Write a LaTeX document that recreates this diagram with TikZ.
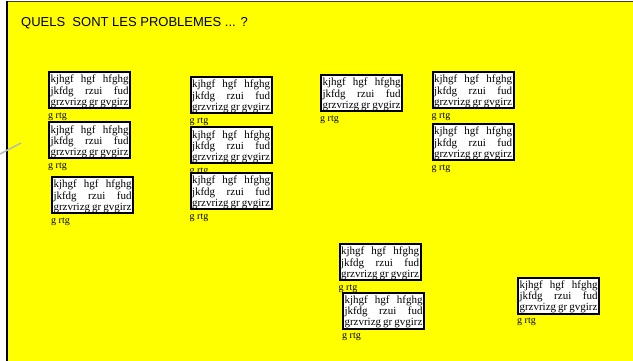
\documentclass[tikz,border=0pt]{standalone}
\usepackage{fontspec}
\setmainfont{Liberation Serif}
\newfontfamily\arialf{Liberation Sans}
\definecolor{bgyellow}{RGB}{255,255,0}
\definecolor{edgegrey}{RGB}{60,60,60}
\definecolor{linegrey}{RGB}{185,185,185}
\newcommand\bxtext{%
\hbox to 78pt{kjhgf\hfill hgf\hfill hfghg}%
\hbox to 78pt{jkfdg\hfill rzui\hfill fud}%
\hbox to 78pt{grzvrizg\hfill gr\hfill gvgirz}}
\tikzset{
  x=1pt, y=-1pt,
  stickybox/.style={draw=black, line width=2pt, fill=white, minimum width=81pt, minimum height=36pt,
    inner sep=0pt,
    path picture={\node[inner sep=0pt, anchor=north, font=\fontsize{11}{11}\selectfont]
      at ([yshift=-0.5pt]path picture bounding box.north) {\vbox{\baselineskip=11.2pt \bxtext}};}},
  lbl/.style={font=\fontsize{10}{11}\selectfont, inner sep=0pt, anchor=north west},
}
\newcommand\stickynote[2]{%
  \node[stickybox] (#1) at #2 {};
  \node[lbl] (#1l) at ([xshift=0pt,yshift=-3.5pt]#1.south west) {g rtg};}
\begin{document}
\begin{tikzpicture}
\useasboundingbox (0,0) rectangle (633,361);
\fill[bgyellow] (6,1) rectangle (640,370);
\draw[edgegrey, line width=1.2pt] (6,1.5) -- (640,1.5);
\draw[black, line width=2pt] (7,1) -- (7,370);
\coordinate (g1) at (0,154);
\coordinate (g2) at (21,143);
\draw[linegrey, line width=1.5pt] (g1) -- (g2);
\node[font=\arialf\fontsize{13}{15}\selectfont, anchor=base west, inner sep=0pt] (title) at (21,27) {QUELS\ \ SONT LES PROBLEMES ... ?};
\stickynote{b1}{(89.5,90)}
\stickynote{b2}{(89.5,140.5)}
\stickynote{b3}{(92.5,195)}
\stickynote{b4}{(231,95)}
\stickynote{b5}{(231,145.5)}
\stickynote{b6}{(231,191)}
\stickynote{b7}{(361.5,93)}
\stickynote{b8}{(473,90)}
\stickynote{b9}{(473,142)}
\stickynote{b10}{(380,262)}
\stickynote{b11}{(383.5,310.5)}
\stickynote{b12}{(558.5,295.5)}
\end{tikzpicture}
\end{document}
